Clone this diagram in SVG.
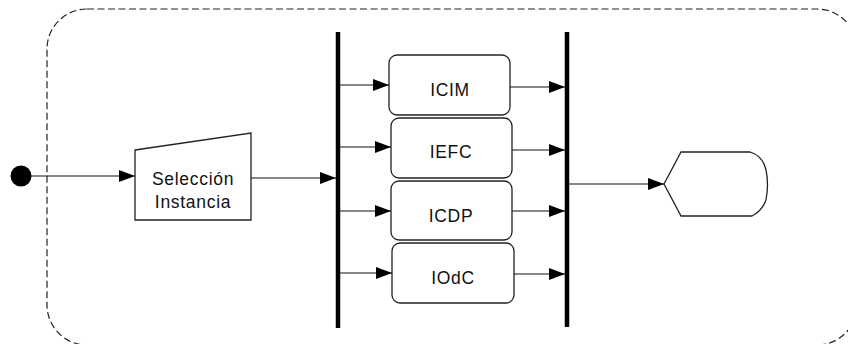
<svg xmlns="http://www.w3.org/2000/svg" width="848" height="344" viewBox="0 0 848 344">
  <style>
    .frame { fill: none; stroke: #222; stroke-width: 1.2; stroke-dasharray: 7 3.5; }
    .node { fill: #fff; stroke: #222; stroke-width: 1.3; }
    .bar { stroke: #000; stroke-width: 4.5; }
    .edge { fill: none; stroke: #111; stroke-width: 1.2; }
    .label { font-family: "Liberation Sans", Arial, sans-serif; font-size: 17.5px; letter-spacing: 0.7px; fill: #111; text-anchor: middle; }
  </style>
  <defs>
    <marker id="arrow" viewBox="0 0 16 12" refX="16" refY="6" markerWidth="16" markerHeight="12" markerUnits="userSpaceOnUse" orient="auto">
      <path d="M0,0 L16,6 L0,12 Z" fill="#000"/>
    </marker>
  </defs>

  <!-- activity region (runs past the right and bottom edges) -->
  <rect class="frame" x="47" y="9" width="810" height="336" rx="40" ry="40"/>

  <!-- fork / join bars -->
  <g id="fork"><line class="bar" x1="338" y1="32" x2="338" y2="328"/></g>
  <g id="join"><line class="bar" x1="567" y1="32" x2="567" y2="327"/></g>

  <g id="start"><circle cx="21" cy="176" r="10.5" fill="#000"/></g>

  <g id="seleccion">
    <polygon class="node" points="135,150 251,133 251,220 135,220"/>
    <text class="label" x="193" y="185">Selección</text>
    <text class="label" x="193" y="208">Instancia</text>
  </g>

  <g id="icim">
    <rect class="node" x="389" y="55" width="121" height="60" rx="8"/>
    <text class="label" x="450" y="96">ICIM</text>
  </g>
  <g id="iefc">
    <rect class="node" x="391" y="118" width="121" height="60" rx="8"/>
    <text class="label" x="451" y="158">IEFC</text>
  </g>
  <g id="icdp">
    <rect class="node" x="391" y="181" width="121" height="59" rx="8"/>
    <text class="label" x="451" y="222">ICDP</text>
  </g>
  <g id="iodc">
    <rect class="node" x="392" y="243" width="122" height="60" rx="8"/>
    <text class="label" x="453" y="284">IOdC</text>
  </g>

  <g id="end">
    <path class="node" d="M664,184 L681,152 L750,152 Q763,156 766,170 Q769,184 766,200 Q762,211 752,216 L681,216 Z"/>
  </g>

  <!-- connectors -->
  <g id="connectors">
    <line class="edge" x1="31" y1="176" x2="135" y2="176" marker-end="url(#arrow)"/>
    <line class="edge" x1="251" y1="178" x2="336" y2="178" marker-end="url(#arrow)"/>
    <line class="edge" x1="340" y1="85" x2="389" y2="85" marker-end="url(#arrow)"/>
    <line class="edge" x1="340" y1="147" x2="391" y2="147" marker-end="url(#arrow)"/>
    <line class="edge" x1="340" y1="211" x2="391" y2="211" marker-end="url(#arrow)"/>
    <line class="edge" x1="340" y1="273" x2="392" y2="273" marker-end="url(#arrow)"/>
    <line class="edge" x1="510" y1="87" x2="565" y2="87" marker-end="url(#arrow)"/>
    <line class="edge" x1="512" y1="150" x2="565" y2="150" marker-end="url(#arrow)"/>
    <line class="edge" x1="512" y1="211" x2="565" y2="211" marker-end="url(#arrow)"/>
    <line class="edge" x1="514" y1="274" x2="565" y2="274" marker-end="url(#arrow)"/>
    <line class="edge" x1="569" y1="184" x2="664" y2="184" marker-end="url(#arrow)"/>
  </g>
</svg>
